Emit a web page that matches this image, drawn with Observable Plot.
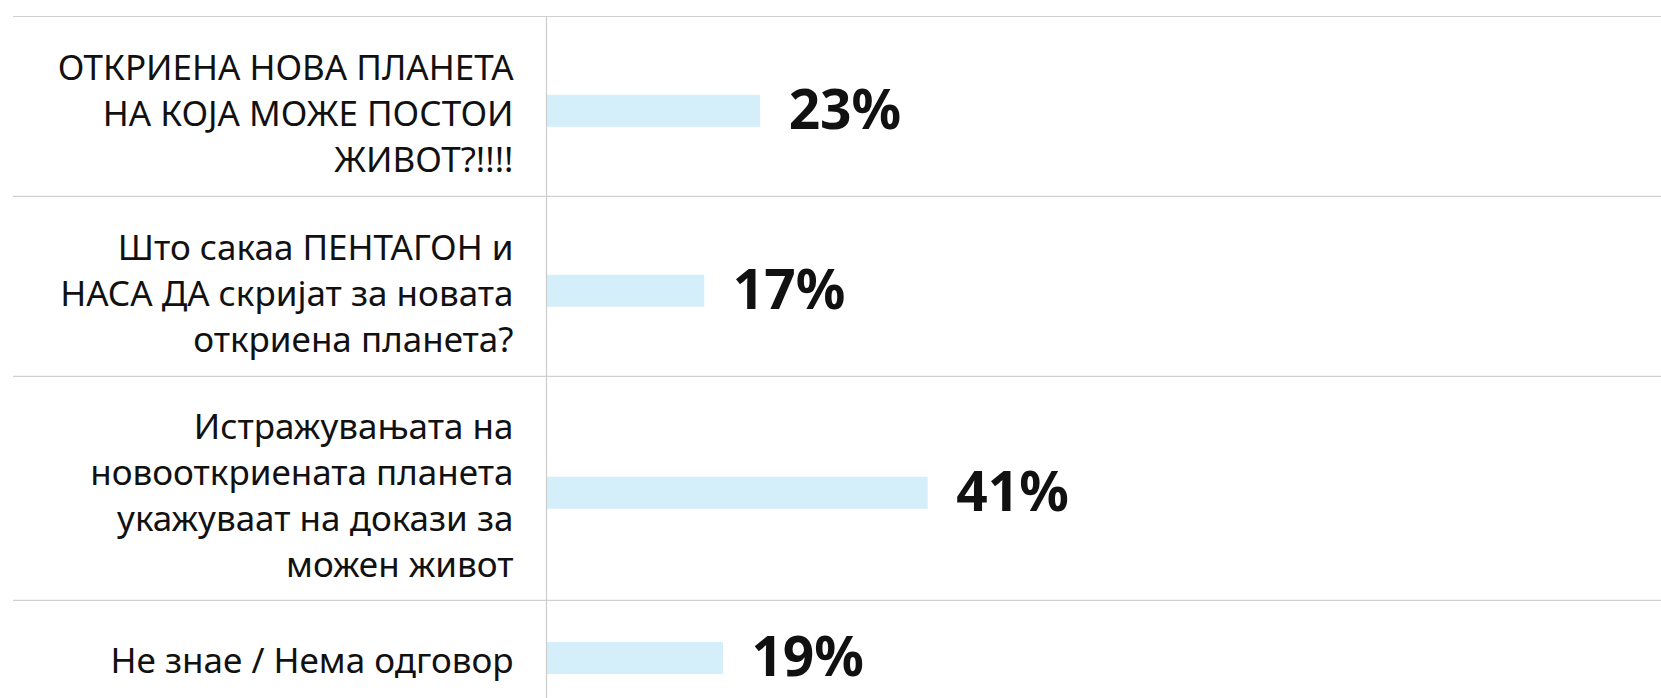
<!DOCTYPE html>
<html><head><meta charset="utf-8">
<script src="https://cdn.jsdelivr.net/npm/d3@7"></script>
<script src="https://cdn.jsdelivr.net/npm/@observablehq/plot@0.6"></script>
<style>html,body{margin:0;padding:0;background:#fff;overflow:hidden}</style>
</head><body><div id="chart"></div>
<script>
const categories = [
  "ОТКРИЕНА НОВА ПЛАНЕТА\nНА КОЈА МОЖЕ ПОСТОИ\nЖИВОТ?!!!!",
  "Што сакаа ПЕНТАГОН и\nНАСА ДА скријат за новата\nоткриена планета?",
  "Истражувањата на\nновооткриената планета\nукажуваат на докази за\nможен живот",
  "Не знае / Нема одговор"
];
const values = [23, 17, 41, 19];
const valueLabels = ["23%", "17%", "41%", "19%"];

const lineUnitPx = 44;
const rowPad = 1.09;
const minLines = 1.33;
let acc = 0;
const rows = categories.map((c, i) => {
  const n = c.split("\n").length;
  const h = Math.max(n, minLines) + rowPad;
  const r = {label: c, value: values[i], text: valueLabels[i], y0: acc, y1: acc + h, yc: acc + h / 2 + 0.11};
  acc += h;
  return r;
});
const total = acc;
const W = 1661, H = 698, mt = 16;
const chart = Plot.plot({
  width: W, height: H,
  marginLeft: 546, marginRight: 184, marginTop: mt, marginBottom: 0,
  x: {domain: [0, 100], axis: null},
  y: {domain: [0, total], range: [mt, mt + total * lineUnitPx], axis: null},
  style: {fontFamily: "'Noto Sans', sans-serif", background: "#fff", overflow: "visible"},
  marks: [
    Plot.rect(rows, {x1: 0, x2: "value", y1: d => d.yc - 0.364, y2: d => d.yc + 0.364, fill: "#d4eefa"}),
    Plot.ruleY(rows.map(r => r.y0), {stroke: "#d0d0d0", strokeWidth: 1.2, insetLeft: -533, insetRight: -184}),
    Plot.ruleX([0], {y1: 0, y2: total, stroke: "#cccccc", strokeWidth: 1.2}),
    Plot.text(rows, {x: 0, y: "yc", text: "label", textAnchor: "end", dx: -33, fontSize: 35, lineHeight: 1.31, fill: "#111"}),
    Plot.text(rows, {x: "value", y: "yc", text: "text", textAnchor: "start", dx: 28, fontSize: 55, fontWeight: "bold", fill: "#111"})
  ]
});
document.getElementById("chart").appendChild(chart);
</script>
</body></html>
